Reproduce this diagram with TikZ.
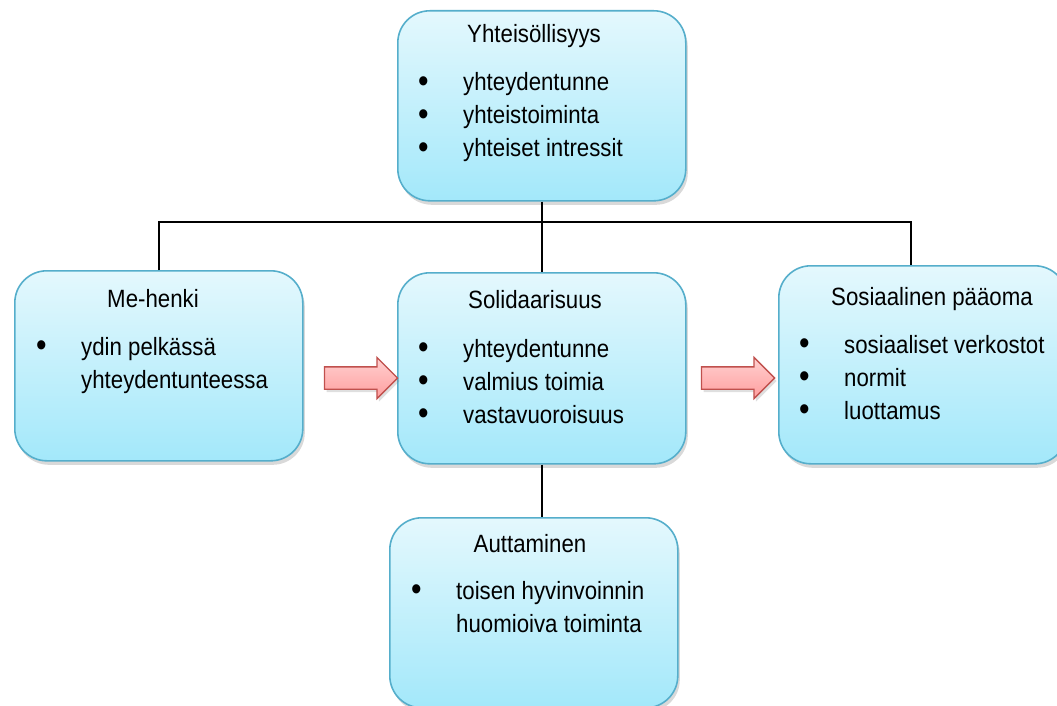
\documentclass[tikz,border=0pt]{standalone}
\usepackage{fontspec}
\setmainfont{Liberation Sans}[FakeStretch=0.89]
\usepackage{xcolor}
\usepackage{tikz}
\usetikzlibrary{positioning,calc,shadows,shapes.arrows}
\definecolor{boxtop}{HTML}{E4F8FD}
\definecolor{boxbot}{HTML}{A3E8FA}
\definecolor{boxline}{HTML}{55AECB}
\definecolor{arrtop}{HTML}{FFD0D0}
\definecolor{arrbot}{HTML}{FF9E9E}
\definecolor{arrline}{HTML}{C0504D}
\tikzset{
  card/.style={draw=boxline, line width=1.6pt, rounded corners=32pt, top color=boxtop, bottom color=boxbot,
    minimum width=288pt, minimum height=190pt, inner sep=0pt, anchor=north west,
    drop shadow={opacity=0.3, shadow xshift=2pt, shadow yshift=-4pt}},
  ttl/.style={anchor=base, inner sep=0pt},
  items/.style={anchor=base west, inner sep=0pt},
  conn/.style={line width=2.6pt, black},
  blk/.style={shape=single arrow, draw=arrline, line width=1.3pt, top color=arrtop, bottom color=arrbot,
    minimum height=73pt, inner xsep=0pt, inner ysep=10.5pt, single arrow head extend=9.5pt,
    single arrow tip angle=90, drop shadow={opacity=0.25, shadow xshift=2pt, shadow yshift=-3pt}},
}
\newcommand{\lst}[1]{\begin{tabular}[t]{@{}p{45pt}@{}l@{}}#1\end{tabular}}
\newcommand{\bul}{\raisebox{-0.1ex}{\scalebox{1.35}{\textbullet}}}

\begin{document}
\begin{tikzpicture}[x=1pt, y=-1pt, font=\fontsize{25}{33}\selectfont]
  \useasboundingbox (0,0) rectangle (1057,706);
  \node[card] (yht) at (397,10)  {};
  \node[card] (hme) at (14,270)  {};
  \node[card, minimum height=191pt] (sol) at (397,272) {};
  \node[card, minimum height=198pt] (sos) at (778,265) {};
  \node[card] (aut) at (389,517) {};

  \node[ttl] (yhtt) at (534,43)  {Yhteisöllisyys};
  \node[items] (yhti) at (418,91) {\lst{\bul & yhteydentunne\\ \bul & yhteistoiminta\\ \bul & yhteiset intressit}};
  \node[ttl] (hmet) at (153,307) {Me-henki};
  \node[items] (hmei) at (36,355) {\lst{\bul & ydin pelkässä\\ & yhteydentunteessa}};
  \node[ttl] (solt) at (535,308) {Solidaarisuus};
  \node[items] (soli) at (418,357) {\lst{\bul & yhteydentunne\\ \bul & valmius toimia\\ \bul & vastavuoroisuus}};
  \node[ttl] (sost) at (932,305) {Sosiaalinen pääoma};
  \node[items] (sosi) at (799,353) {\lst{\bul & sosiaaliset verkostot\\ \bul & normit\\ \bul & luottamus}};
  \node[ttl] (autt) at (530,552) {Auttaminen};
  \node[items] (auti) at (411,599) {\lst{\bul & toisen hyvinvoinnin\\ & huomioiva toiminta}};

  \node[blk] (arrl) at (355.5,378) {};
  \node[blk] (arrr) at (732.5,378) {};

  \coordinate (jm) at (yht.south |- 0,222);
  \coordinate (jr) at (911,222);
  \draw[conn] (yht.south) -- (sol.north);
  \draw[conn] (hme.north) |- (jm) -- (jr) -- (jr |- sos.north);
  \draw[conn] (sol.south) -- (aut.north -| sol.south);
\end{tikzpicture}
\end{document}
